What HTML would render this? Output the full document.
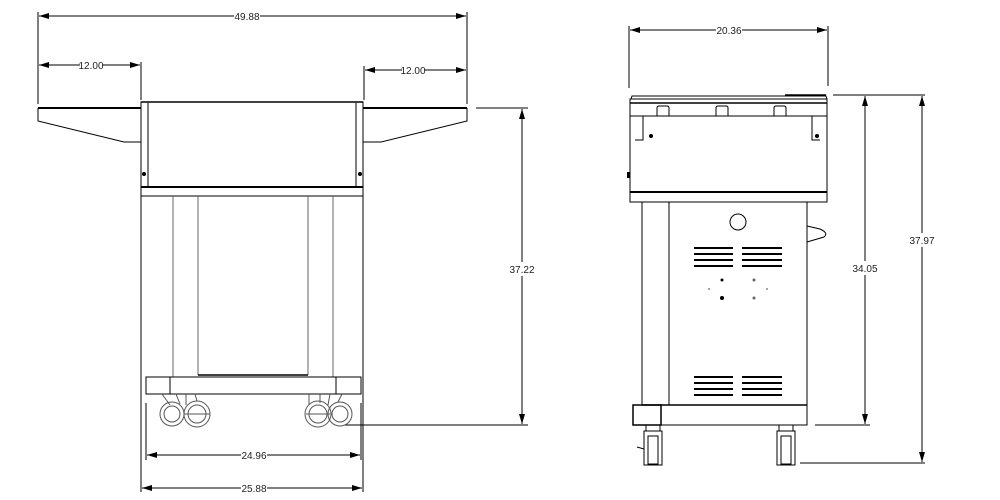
<!DOCTYPE html>
<html><head><meta charset="utf-8"><style>
html,body{margin:0;padding:0;background:#fff;width:1000px;height:500px;overflow:hidden}
text{font-family:"Liberation Sans",sans-serif;font-size:10px;fill:#222}
</style></head><body>
<svg width="1000" height="500" viewBox="0 0 1000 500" xmlns="http://www.w3.org/2000/svg">
<defs>
<marker id="a" viewBox="0 0 10 6" refX="10" refY="3" markerWidth="10" markerHeight="6" orient="auto-start-reverse" markerUnits="userSpaceOnUse"><path d="M0,0 L10,3 L0,6z" fill="#000"/></marker>
</defs>
<g stroke="#000" stroke-width="1" fill="none">
<line x1="38" y1="12" x2="38" y2="104"/><line x1="467" y1="12" x2="467" y2="104"/>
<line x1="39" y1="16" x2="466" y2="16" marker-start="url(#a)" marker-end="url(#a)"/>
<line x1="141" y1="62" x2="141" y2="100"/><line x1="364" y1="66" x2="364" y2="100"/>
<line x1="39" y1="65" x2="140" y2="65" marker-start="url(#a)" marker-end="url(#a)"/>
<line x1="365" y1="70" x2="466" y2="70" marker-start="url(#a)" marker-end="url(#a)"/>
<line x1="476" y1="108" x2="528" y2="108"/>
<line x1="345" y1="425" x2="528" y2="425"/>
<line x1="522" y1="109" x2="522" y2="424" marker-start="url(#a)" marker-end="url(#a)"/>
<line x1="146" y1="403" x2="146" y2="460"/><line x1="361" y1="403" x2="361" y2="460"/>
<line x1="147" y1="455" x2="360" y2="455" marker-start="url(#a)" marker-end="url(#a)"/>
<line x1="141" y1="196" x2="141" y2="492"/><line x1="363" y1="196" x2="363" y2="492"/>
<line x1="142" y1="488" x2="362" y2="488" marker-start="url(#a)" marker-end="url(#a)"/>
<path d="M38,108 H141 M38,108 V121 L124,142 H141" />
<line x1="38" y1="108" x2="141" y2="108" stroke-width="2"/>
<path d="M467,108 H363 M467,108 V121 L381,142 H363"/>
<line x1="363" y1="108" x2="467" y2="108" stroke-width="2"/>
<rect x="141" y="102" width="222" height="85"/>
<line x1="141" y1="102" x2="363" y2="102" stroke-width="1.5"/>
<line x1="148" y1="103" x2="148" y2="187"/><line x1="356" y1="103" x2="356" y2="187"/>
<line x1="141" y1="187" x2="363" y2="187" stroke-width="2"/>
<rect x="141" y="187" width="222" height="9"/>
<line x1="141" y1="196" x2="141" y2="377"/><line x1="363" y1="196" x2="363" y2="377"/>
<line x1="173" y1="196" x2="173" y2="377" stroke="#666"/><line x1="198" y1="196" x2="198" y2="375" stroke="#666"/>
<line x1="308" y1="196" x2="308" y2="375" stroke="#666"/><line x1="333" y1="196" x2="333" y2="377" stroke="#666"/>
<line x1="198" y1="375" x2="308" y2="375" stroke-width="1.5"/>
<rect x="146" y="377" width="215" height="17"/>
<line x1="170" y1="377" x2="170" y2="394"/><line x1="336" y1="377" x2="336" y2="394"/>
<g stroke="#555">
<circle cx="172" cy="414" r="12"/><circle cx="172" cy="414" r="8"/>
<circle cx="197" cy="414" r="13"/><circle cx="197" cy="414" r="9"/>
<circle cx="318" cy="414" r="13"/><circle cx="318" cy="414" r="9"/>
<circle cx="340" cy="414" r="12"/><circle cx="340" cy="414" r="8"/>
<path d="M162,394 L170,405 M176,394 L180,404 M186,394 L186,405 M195,394 L197,401"/>
<path d="M309,394 L309,405 M320,394 L320,403 M330,394 L328,405 M342,394 L338,402"/>
<line x1="184" y1="414" x2="210" y2="414"/><line x1="306" y1="414" x2="330" y2="414"/>
</g>
<line x1="629" y1="26" x2="629" y2="88"/><line x1="828" y1="26" x2="828" y2="86"/>
<line x1="630" y1="30" x2="827" y2="30" marker-start="url(#a)" marker-end="url(#a)"/>
<line x1="833" y1="95" x2="925" y2="95"/>
<line x1="815" y1="425" x2="870" y2="425"/>
<line x1="800" y1="463" x2="925" y2="463"/>
<line x1="865" y1="96" x2="865" y2="424" marker-start="url(#a)" marker-end="url(#a)"/>
<line x1="922" y1="96" x2="922" y2="462" marker-start="url(#a)" marker-end="url(#a)"/>
<path d="M631,99 L632,96 H826 L827,99"/>
<line x1="785" y1="95" x2="826" y2="95" stroke-width="1.5"/>
<rect x="630" y="99" width="197" height="103"/>
<line x1="630" y1="103" x2="827" y2="103" stroke-width="1.5"/>
<line x1="630" y1="116" x2="827" y2="116"/>
<line x1="630" y1="192" x2="827" y2="192" stroke-width="2"/>
<path d="M643,116 V140 H635"/><path d="M812,116 V140 H820"/>
<path d="M657,116 V108 Q657,106 659,106 H667 Q669,106 669,108 V116"/>
<path d="M716,116 V108 Q716,106 718,106 H726 Q728,106 728,108 V116"/>
<path d="M774,116 V108 Q774,106 776,106 H784 Q786,106 786,108 V116"/>
<rect x="642" y="202" width="165" height="203"/>
<line x1="669" y1="202" x2="669" y2="405"/>
<circle cx="738" cy="222" r="8"/>
<path d="M807,226 L820,229 Q829,233 824,237 L807,242"/>
<line x1="642" y1="405" x2="807" y2="405" stroke-width="1.5"/>
<rect x="633" y="405" width="174" height="20"/>
<rect x="633" y="405" width="28" height="20" stroke-width="1.5"/>
<g stroke-width="2">
<line x1="694" y1="248" x2="733" y2="248"/><line x1="694" y1="254" x2="733" y2="254"/><line x1="694" y1="260" x2="733" y2="260"/><line x1="694" y1="266" x2="733" y2="266"/>
<line x1="742" y1="248" x2="782" y2="248"/><line x1="742" y1="254" x2="782" y2="254"/><line x1="742" y1="260" x2="782" y2="260"/><line x1="742" y1="266" x2="782" y2="266"/>
<line x1="694" y1="377" x2="733" y2="377"/><line x1="694" y1="383" x2="733" y2="383"/><line x1="694" y1="389" x2="733" y2="389"/><line x1="694" y1="395" x2="733" y2="395"/>
<line x1="742" y1="377" x2="782" y2="377"/><line x1="742" y1="383" x2="782" y2="383"/><line x1="742" y1="389" x2="782" y2="389"/><line x1="742" y1="395" x2="782" y2="395"/>
</g>
<rect x="646" y="425" width="14" height="6"/><rect x="644" y="431" width="18" height="34"/><rect x="648" y="436" width="10" height="28"/>
<rect x="779" y="425" width="14" height="6"/><rect x="777" y="431" width="18" height="34"/><rect x="781" y="436" width="10" height="28"/>
<line x1="637" y1="447" x2="644" y2="449"/>
</g>
<g fill="#000">
<circle cx="144" cy="174" r="2"/><circle cx="360" cy="174" r="2"/>
<circle cx="651" cy="136" r="2"/><circle cx="817" cy="136" r="2"/>
<circle cx="722" cy="280" r="1.5"/><circle cx="722" cy="298" r="2"/>
<circle cx="754" cy="280" r="1.5" fill="#666"/><circle cx="754" cy="298" r="1.5" fill="#666"/>
<circle cx="709" cy="289" r="1" fill="#888"/><circle cx="767" cy="289" r="1" fill="#888"/>
<rect x="627" y="172" width="3" height="6"/>
</g>
<g fill="#fff">
<rect x="234" y="10" width="26" height="12"/>
<rect x="80" y="59" width="22" height="12"/>
<rect x="402" y="64" width="22" height="12"/>
<rect x="509" y="262" width="27" height="14"/>
<rect x="241" y="449" width="26" height="12"/>
<rect x="241" y="482" width="26" height="12"/>
<rect x="716" y="24" width="26" height="12"/>
<rect x="852" y="261" width="27" height="14"/>
<rect x="909" y="233" width="27" height="14"/>
</g>
<text x="247" y="20" text-anchor="middle">49.88</text>
<text x="91" y="69" text-anchor="middle">12.00</text>
<text x="413" y="74" text-anchor="middle">12.00</text>
<text x="522" y="273" text-anchor="middle">37.22</text>
<text x="254" y="459" text-anchor="middle">24.96</text>
<text x="254" y="492" text-anchor="middle">25.88</text>
<text x="729" y="34" text-anchor="middle">20.36</text>
<text x="865" y="272" text-anchor="middle">34.05</text>
<text x="922" y="244" text-anchor="middle">37.97</text>
</svg>
</body></html>
